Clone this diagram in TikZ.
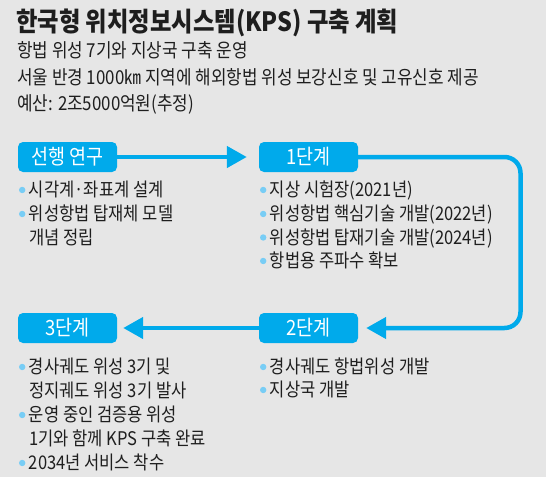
\documentclass[tikz,border=0pt]{standalone}
\usepackage{fontspec}
\setmainfont{Noto Sans CJK KR}[FakeStretch=0.88]
\usetikzlibrary{positioning, arrows.meta}
\definecolor{panelbg}{RGB}{230, 230, 230}
\definecolor{kpsblue}{RGB}{0, 170, 235}
\definecolor{dotblue}{RGB}{120, 205, 245}
\definecolor{bodytext}{RGB}{30, 30, 30}
\newcommand{\infodot}{\tikz[baseline={(0,-0.36em)}]\fill[dotblue] (0,0) circle (3.2pt);\hspace{3.5pt}}

\begin{document}
\begin{tikzpicture}[x=1pt, y=-1pt,
    stagebox/.style={fill=kpsblue, rounded corners=5pt, minimum width=99pt, minimum height=30pt,
      inner sep=0pt, text=white, font=\fontsize{21}{24}\selectfont},
    flow/.style={draw=kpsblue, line width=4.5pt, -{Triangle[length=20pt, width=21pt]}},
    infotext/.style={anchor=west, inner sep=0pt, text height=16pt, text depth=2.5pt,
      text=bodytext, font=\fontsize{18.8}{22}\selectfont}]
    \fill[panelbg] (0,0) rectangle (546,477);
    % Heading
    \node[infotext, text height=23pt, text depth=3pt, font=\fontsize{26.5}{30}\selectfont\bfseries] (title) at (16,21.5) {한국형 위치정보시스템(KPS) 구축 계획};
    \node[infotext, font=\fontsize{19.2}{22}\selectfont] (sub1) at (17,51) {항법 위성 7기와 지상국 구축 운영};
    \node[infotext, font=\fontsize{19.2}{22}\selectfont] (sub2) at (17,78) {서울 반경 1000㎞ 지역에 해외항법 위성 보강신호 및 고유신호 제공};
    \node[infotext, font=\fontsize{19.2}{22}\selectfont] (sub3) at (17,104) {예산: 2조5000억원(추정)};

    % Stages
    \node[stagebox] (pre) at (67.5,157) {선행 연구};
    \node[stagebox] (s1) at (308.5,157) {1단계};
    \node[stagebox] (s2) at (308.5,328) {2단계};
    \node[stagebox] (s3) at (67.5,328) {3단계};

    % Flow
    \coordinate (bend) at (520.5,240);
    \draw[flow, shorten >=12pt] (pre) -- (s1);
    \draw[flow, rounded corners=16pt, shorten >=8pt] (s1.east) -| (bend) |- (s2.east);
    \draw[flow, shorten >=6pt] (s2) -- (s3);

    % Prior research
    \node[infotext] (pre-a) at (18.8,190) {\infodot 시각계·좌표계 설계};
    \node[infotext] (pre-b) at (18.8,214) {\infodot 위성항법 탑재체 모델};
    \node[infotext] (pre-c) at (29,237.5) {개념 정립};

    % Stage 1
    \node[infotext] (s1-a) at (259.8,190) {\infodot 지상 시험장(2021년)};
    \node[infotext] (s1-b) at (259.8,214) {\infodot 위성항법 핵심기술 개발(2022년)};
    \node[infotext] (s1-c) at (259.8,237.5) {\infodot 위성항법 탑재기술 개발(2024년)};
    \node[infotext] (s1-d) at (259.8,261) {\infodot 항법용 주파수 확보};

    % Stage 2
    \node[infotext] (s2-a) at (259.8,367) {\infodot 경사궤도 항법위성 개발};
    \node[infotext] (s2-b) at (259.8,390) {\infodot 지상국 개발};

    % Stage 3
    \node[infotext] (s3-a) at (18.8,367) {\infodot 경사궤도 위성 3기 및};
    \node[infotext] (s3-b) at (29,391) {정지궤도 위성 3기 발사};
    \node[infotext] (s3-c) at (18.8,415) {\infodot 운영 중인 검증용 위성};
    \node[infotext] (s3-d) at (29,439) {1기와 함께 KPS 구축 완료};
    \node[infotext] (s3-e) at (18.8,463) {\infodot 2034년 서비스 착수};
\end{tikzpicture}
\end{document}
